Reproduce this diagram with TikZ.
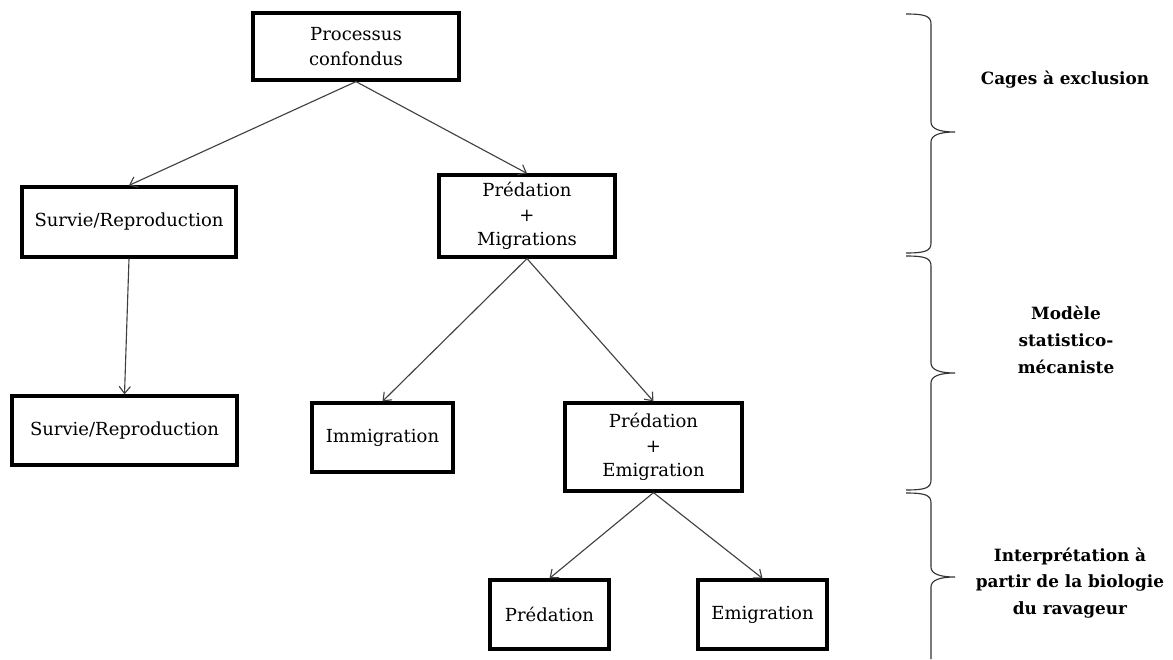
\documentclass[tikz,border=0pt]{standalone}
\usepackage{fontspec}
\setmainfont{DejaVu Serif}
\usetikzlibrary{arrows, arrows.meta, positioning}

\begin{document}
\begin{tikzpicture}[
    x=0.025cm, y=-0.025cm,
    >={Straight Barb[length=5pt, width=8pt]},
    box/.style={rectangle, draw, line width=2.3pt, align=center, font=\fontsize{12.8}{17.5}\selectfont, inner sep=0pt},
    arrow/.style={->, black!75, line width=0.8pt},
    bracket/.style={black!80, line width=0.8pt},
    label/.style={font=\fontsize{12}{19}\selectfont\bfseries, align=center}
]
\useasboundingbox (0,0) rectangle (1173,659);

% First level
\node[box, minimum width=206*0.025cm, minimum height=67*0.025cm] (confondus) at (356, 46.5) {Processus\\confondus};

% Second level
\node[box, minimum width=214*0.025cm, minimum height=70*0.025cm] (survie1) at (129, 222) {Survie/Reproduction};
\node[box, minimum width=176*0.025cm, minimum height=82*0.025cm] (predmig) at (527, 216) {Prédation\\+\\Migrations};

\draw[arrow] (confondus.south) -- (survie1.north);
\draw[arrow] (confondus.south) -- (predmig.north);

% Third level
\node[box, minimum width=225*0.025cm, minimum height=69*0.025cm] (survie2) at (124.5, 430.5) {Survie/Reproduction};
\node[box, minimum width=141*0.025cm, minimum height=69*0.025cm] (immig) at (382.5, 437.5) {Immigration};
\node[box, minimum width=177*0.025cm, minimum height=88*0.025cm] (predemig) at (653.5, 447) {Prédation\\+\\Emigration};

\draw[arrow] (survie1.south) -- (survie2.north);
\draw[arrow] (predmig.south) -- (immig.north);
\draw[arrow] (predmig.south) -- (predemig.north);

% Fourth level
\node[box, minimum width=119*0.025cm, minimum height=69*0.025cm] (pred) at (549.5, 614.5) {Prédation};
\node[box, minimum width=129*0.025cm, minimum height=69*0.025cm] (emig) at (762.5, 614.5) {\vphantom{Prédation}Emigration};

\draw[arrow] (predemig.south) -- (pred.north);
\draw[arrow] (predemig.south) -- (emig.north);

% Braces on the right
\draw[bracket] (906,14) .. controls (925,14) and (931,16) .. (931,24) -- (931,122)
    .. controls (931,129) and (940,132) .. (955,132) .. controls (940,132) and (931,135) .. (931,142)
    -- (931,243) .. controls (931,251) and (925,253) .. (906,253);
\draw[bracket] (906,256) .. controls (925,256) and (931,258) .. (931,266) -- (931,363)
    .. controls (931,370) and (940,373) .. (955,373) .. controls (940,373) and (931,376) .. (931,383)
    -- (931,480) .. controls (931,488) and (925,490) .. (906,490);
\draw[bracket] (906,493) .. controls (925,493) and (931,495) .. (931,503) -- (931,567)
    .. controls (931,574) and (940,577) .. (955,577) .. controls (940,577) and (931,580) .. (931,587)
    -- (931,659);

\node[label] (cages) at (1065, 80) {Cages à exclusion};
\node[label] (modele) at (1066, 340) {Modèle\\statistico-\\mécaniste};
\node[label] (interp) at (1070, 583) {Interprétation à\\partir de la biologie\\du ravageur};

\end{tikzpicture}
\end{document}
